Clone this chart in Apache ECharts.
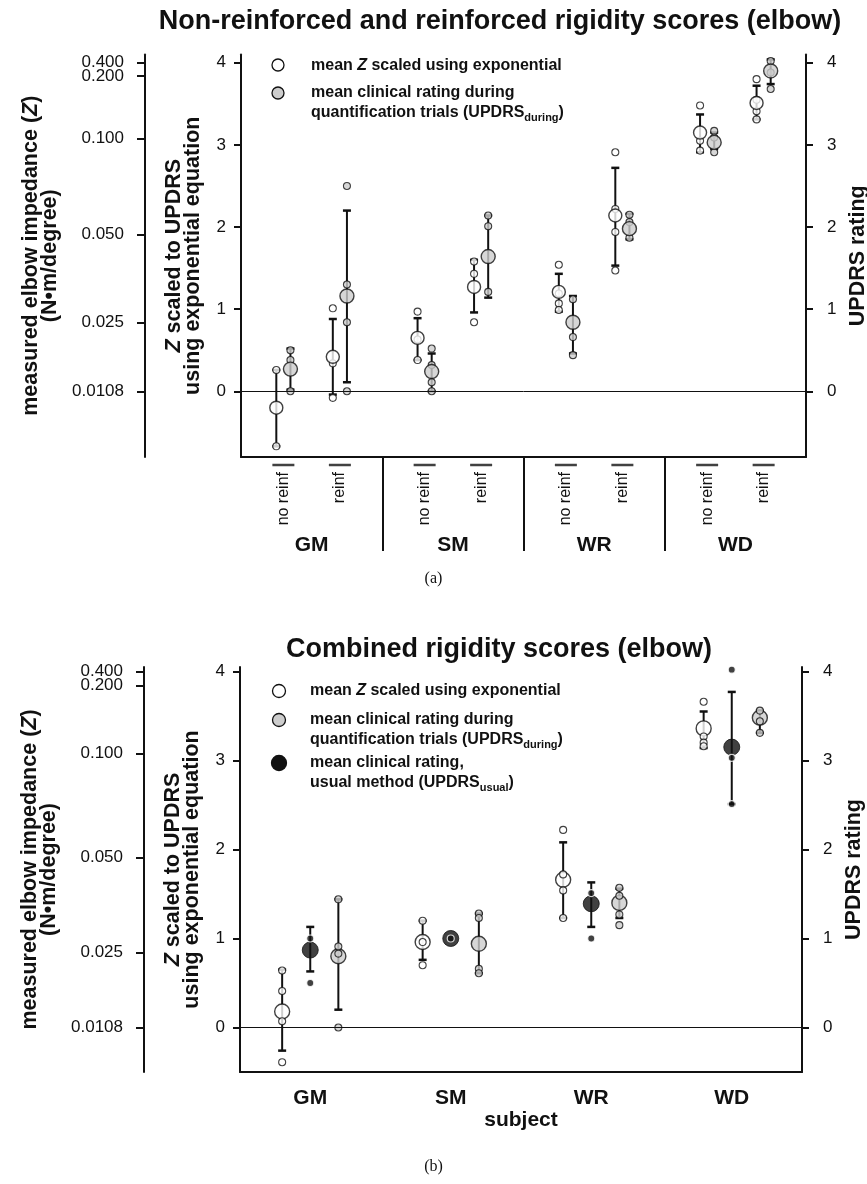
<!DOCTYPE html>
<html>
<head>
<meta charset="utf-8">
<script src="https://cdn.jsdelivr.net/npm/echarts@6/dist/echarts.min.js"></script>
<style>
  html, body { margin: 0; padding: 0; background: #fff; }
  #chart { width: 867px; height: 1184px; }
</style>
</head>
<body>
<div id="chart"></div>
<script>
// ---- data (score units, 0..4) ----
const subjects = ['GM', 'SM', 'WR', 'WD'];
const conditions = ['no reinf', 'reinf'];
const scoreTicks = [0, 1, 2, 3, 4];
const impedanceLabels = ['0.0108', '0.025', '0.050', '0.100', '0.200', '0.400'];
const impedanceOnScore = [0, 0.84, 1.91, 3.08, 3.84, 4.0];

// (a) one entry per subject x condition: GM no, GM reinf, SM no, ...
const topZMean = [-0.2, 0.42, 0.65, 1.27, 1.21, 2.14, 3.15, 3.51];
const topZLow = [-0.67, -0.04, 0.38, 0.96, 0.97, 1.53, 2.91, 3.31];
const topZHigh = [0.26, 0.88, 0.89, 1.6, 1.43, 2.72, 3.37, 3.72];
const topZPoints = [[0.26, -0.67], [1.01, 0.34, -0.08], [0.97, 0.63, 0.38], [1.58, 1.43, 0.84],
  [1.54, 1.19, 1.07, 0.99], [2.91, 2.22, 1.94, 1.47], [3.48, 3.05, 2.93], [3.8, 3.55, 3.41, 3.31]];
const topUMean = [0.27, 1.16, 0.24, 1.64, 0.84, 1.98, 3.03, 3.9];
const topULow = [0.02, 0.11, 0.0, 1.14, 0.46, 1.85, 2.95, 3.74];
const topUHigh = [0.52, 2.2, 0.46, 2.14, 1.16, 2.16, 3.15, 4.04];
const topUPoints = [[0.5, 0.38, 0], [2.5, 1.3, 0.84, 0], [0.52, 0.32, 0.11, 0], [2.14, 2.01, 1.21],
  [1.12, 0.66, 0.44], [2.15, 2.06, 1.87], [3.17, 3.09, 2.91], [4.02, 3.88, 3.68]];

// (b) one entry per subject
const botZMean = [0.18, 0.96, 1.66, 3.36];
const botZLow = [-0.26, 0.76, 1.23, 3.14];
const botZHigh = [0.65, 1.2, 2.08, 3.55];
const botZPoints = [[0.64, 0.41, 0.07, -0.39], [1.2, 0.96, 0.7], [2.22, 1.72, 1.54, 1.23], [3.66, 3.27, 3.2, 3.16]];
const botUsualMean = [0.87, 1.0, 1.39, 3.15];
const botUsualLow = [0.63, null, 1.13, 2.51];
const botUsualHigh = [1.13, null, 1.63, 3.77];
const botUsualPoints = [[1.0, 0.5], [1.0], [1.51, 1.0], [4.02, 3.03, 2.51]];
const botDuringMean = [0.8, 0.94, 1.4, 3.48];
const botDuringLow = [0.2, 0.61, 1.23, 3.31];
const botDuringHigh = [1.44, 1.28, 1.56, 3.56];
const botDuringPoints = [[1.44, 0.91, 0.83, 0], [1.28, 1.23, 0.66, 0.61], [1.57, 1.48, 1.27, 1.15], [3.56, 3.44, 3.31]];

// ---- layout / style ----
const FONT = 'Liberation Sans';
const INK = '#111';
const GRAY = '#cdcdcd';
const condOffset = [-0.2, 0.2];
const pairOffset = 0.05;
const trioOffset = 0.2;

const chart = echarts.init(document.getElementById('chart'), null, { renderer: 'canvas' });

const condX = [];
subjects.forEach((s, i) => condOffset.forEach(o => condX.push(i + o)));
const condNames = condX.map((_, k) => conditions[k % 2]);
const subjX = subjects.map((_, i) => i);

const topZX = condX.map(x => x - pairOffset);
const topUX = condX.map(x => x + pairOffset);
const botZX = subjX.map(x => x - trioOffset);
const botUsualX = subjX.slice();
const botDuringX = subjX.map(x => x + trioOffset);

// 0.400 and 0.200 sit very close; they go on two stacked axes so neither is dropped
const crowdedIdx = impedanceLabels.indexOf('0.200');
const impMainValues = impedanceOnScore.filter((_, i) => i !== crowdedIdx);
const impExtraValues = [impedanceOnScore[crowdedIdx]];

function toPairs(xs, ys) { return ys.map((y, i) => [xs[i], y]); }
function toBars(xs, lo, hi) {
  const out = [];
  xs.forEach((x, i) => { if (lo[i] != null) out.push([x, lo[i], hi[i]]); });
  return out;
}
function toPoints(xs, pts) {
  const out = [];
  pts.forEach((list, i) => list.forEach(v => out.push([xs[i], v])));
  return out;
}
function labelAt(values, names) {
  return function (v) {
    const i = values.findIndex(x => Math.abs(x - v) < 1e-6);
    return i < 0 ? '' : names[i];
  };
}

function renderErrorBar(params, api) {
  const x = api.value(0);
  const lo = api.coord([x, api.value(1)]);
  const hi = api.coord([x, api.value(2)]);
  const cap = 4;
  return {
    type: 'group',
    children: [
      { type: 'line', shape: { x1: lo[0], y1: lo[1], x2: hi[0], y2: hi[1] }, style: { stroke: INK, lineWidth: 2 } },
      { type: 'line', shape: { x1: hi[0] - cap, y1: hi[1], x2: hi[0] + cap, y2: hi[1] }, style: { stroke: INK, lineWidth: 2.5 } },
      { type: 'line', shape: { x1: lo[0] - cap, y1: lo[1], x2: lo[0] + cap, y2: lo[1] }, style: { stroke: INK, lineWidth: 2.5 } }
    ]
  };
}

const nameStyle = {
  fontFamily: FONT, fontWeight: 'bold', fontSize: 21.5, color: INK, lineHeight: 19,
  rich: { iz: { fontFamily: FONT, fontWeight: 'bold', fontStyle: 'italic', fontSize: 21.5, color: INK, lineHeight: 19 } }
};
const tickFont = { fontFamily: FONT, fontSize: 17, color: INK };

function scoreAxis(grid, min, max, position) {
  const left = position === 'left';
  return {
    type: 'value', gridIndex: grid, position: position, min: min, max: max,
    name: left ? '{iz|Z} scaled to UPDRS\nusing exponential equation' : 'UPDRS rating',
    nameLocation: 'middle', nameGap: left ? 38 : 40,
    nameTextStyle: nameStyle,
    axisLine: { show: true, onZero: false, lineStyle: { color: INK, width: 2 } },
    axisTick: { show: true, customValues: scoreTicks, length: 7, lineStyle: { color: INK, width: 2 } },
    axisLabel: Object.assign({ customValues: scoreTicks, margin: left ? 15 : 21, showMinLabel: true, showMaxLabel: true }, tickFont),
    splitLine: { show: false }
  };
}
function impedanceAxis(grid, min, max) {
  return {
    type: 'value', gridIndex: grid, position: 'left', offset: 96, min: min, max: max,
    name: 'measured elbow impedance ({iz|Z})\n(N•m/degree)',
    nameLocation: 'middle', nameGap: 84,
    nameTextStyle: nameStyle,
    axisLine: { show: true, onZero: false, lineStyle: { color: INK, width: 2 } },
    axisTick: { show: true, customValues: impedanceOnScore, length: 8, lineStyle: { color: INK, width: 2 } },
    axisLabel: Object.assign({ customValues: impMainValues, margin: 21, showMinLabel: true, showMaxLabel: true,
      formatter: labelAt(impedanceOnScore, impedanceLabels) }, tickFont),
    splitLine: { show: false }
  };
}
function impedanceExtraAxis(grid, min, max) {
  return {
    type: 'value', gridIndex: grid, position: 'left', offset: 96, min: min, max: max,
    axisLine: { show: false }, axisTick: { show: false },
    axisLabel: Object.assign({ customValues: impExtraValues, margin: 21, showMinLabel: true, showMaxLabel: true,
      formatter: labelAt(impedanceOnScore, impedanceLabels) }, tickFont),
    splitLine: { show: false }
  };
}

const zeroLine = {
  silent: true, symbol: ['none', 'none'], label: { show: false },
  lineStyle: { color: INK, width: 1, type: 'solid' },
  data: [{ yAxis: 0 }]
};

const bigOpen = { color: '#fff', borderColor: INK, borderWidth: 1.4 };
const bigGray = { color: GRAY, borderColor: INK, borderWidth: 1.4 };
const bigBlack = { color: INK, borderColor: INK, borderWidth: 1 };
const smallOpen = { color: '#fff', borderColor: INK, borderWidth: 1.1 };
const smallGray = { color: GRAY, borderColor: INK, borderWidth: 1.1 };
const smallBlack = { color: INK, borderColor: '#fff', borderWidth: 1.2 };

function errSeries(x, y, data) {
  return { type: 'custom', xAxisIndex: x, yAxisIndex: y, renderItem: renderErrorBar, encode: { x: 0, y: [1, 2] }, data: data, z: 2, silent: true };
}
function dotSeries(x, y, data, size, style, z, extra) {
  return Object.assign({ type: 'scatter', xAxisIndex: x, yAxisIndex: y, symbol: 'circle', symbolSize: size, itemStyle: style, data: data, z: z, silent: true }, extra || {});
}

const legendFont = { fontFamily: FONT, fontWeight: 'bold', fontSize: 16, fill: INK, lineHeight: 20 };
const legendRich = {
  iz: { fontFamily: FONT, fontWeight: 'bold', fontStyle: 'italic', fontSize: 16, fill: INK },
  sub: { fontFamily: FONT, fontWeight: 'bold', fontSize: 11, fill: INK, padding: [9, 0, 0, 0] }
};
function legendIcon(cx, cy, r, fill) {
  return { type: 'circle', shape: { cx: cx, cy: cy, r: r }, style: { fill: fill, stroke: INK, lineWidth: 1.3 } };
}
function legendText(x, y, text) {
  return { type: 'text', x: x, y: y, style: Object.assign({ text: text, rich: legendRich, verticalAlign: 'top' }, legendFont) };
}

const titleFont = { fontFamily: FONT, fontWeight: 'bold', fontSize: 27, color: INK };

const option = {
  backgroundColor: '#fff',
  animation: false,
  title: [
    { text: 'Non-reinforced and reinforced rigidity scores (elbow)', left: 495, top: 3, textAlign: 'center', textStyle: titleFont },
    { text: 'Combined rigidity scores (elbow)', left: 494, top: 631, textAlign: 'center', textStyle: titleFont },
    { text: '(a)', left: 'center', top: 566, textStyle: { fontFamily: 'Liberation Serif', fontWeight: 'normal', fontSize: 16, color: INK } },
    { text: '(b)', left: 'center', top: 1154, textStyle: { fontFamily: 'Liberation Serif', fontWeight: 'normal', fontSize: 16, color: INK } }
  ],
  grid: [
    { left: 241, right: 61, top: 54.5, bottom: 727, outerBoundsMode: 'none' },
    { left: 240, right: 65, top: 667, bottom: 112, outerBoundsMode: 'none' }
  ],
  xAxis: [
    { // subject labels + group separators, panel (a)
      type: 'value', gridIndex: 0, min: -0.5, max: 3.5,
      axisLine: { show: true, onZero: false, lineStyle: { color: INK, width: 2 } },
      axisTick: { show: true, customValues: [0.5, 1.5, 2.5], length: 94, lineStyle: { color: INK, width: 2 } },
      axisLabel: { customValues: subjX, formatter: labelAt(subjX, subjects), margin: 78,
        fontFamily: FONT, fontWeight: 'bold', fontSize: 21, color: INK },
      splitLine: { show: false }
    },
    { // condition labels, panel (a)
      type: 'value', gridIndex: 0, min: -0.5, max: 3.5, position: 'bottom',
      axisLine: { show: false }, axisTick: { show: false },
      axisLabel: { customValues: condX, formatter: labelAt(condX, condNames), rotate: 90, margin: 15,
        fontFamily: FONT, fontSize: 16, color: INK },
      splitLine: { show: false }
    },
    { // panel (b)
      type: 'value', gridIndex: 1, min: -0.5, max: 3.5,
      name: 'subject', nameLocation: 'middle', nameGap: 36,
      nameTextStyle: { fontFamily: FONT, fontWeight: 'bold', fontSize: 21, color: INK },
      axisLine: { show: true, onZero: false, lineStyle: { color: INK, width: 2 } },
      axisTick: { show: false },
      axisLabel: { customValues: subjX, formatter: labelAt(subjX, subjects), margin: 16,
        fontFamily: FONT, fontWeight: 'bold', fontSize: 21, color: INK },
      splitLine: { show: false }
    }
  ],
  yAxis: [
    scoreAxis(0, -0.8, 4.1, 'left'),
    scoreAxis(0, -0.8, 4.1, 'right'),
    impedanceAxis(0, -0.8, 4.1),
    impedanceExtraAxis(0, -0.8, 4.1),
    scoreAxis(1, -0.5, 4.05, 'left'),
    scoreAxis(1, -0.5, 4.05, 'right'),
    impedanceAxis(1, -0.5, 4.05),
    impedanceExtraAxis(1, -0.5, 4.05)
  ],
  series: [
    // panel (a)
    errSeries(0, 0, toBars(topZX, topZLow, topZHigh)),
    errSeries(0, 0, toBars(topUX, topULow, topUHigh)),
    dotSeries(0, 0, toPoints(topZX, topZPoints), 7, smallOpen, 3),
    dotSeries(0, 0, toPoints(topUX, topUPoints), 7, smallGray, 3),
    dotSeries(0, 0, toPairs(topZX, topZMean), 13, bigOpen, 4, { markLine: zeroLine }),
    dotSeries(0, 0, toPairs(topUX, topUMean), 14, bigGray, 4),
    dotSeries(0, 0, condX.map(x => [x, -0.8]), [22, 2.5], { color: INK }, 5,
      { symbol: 'rect', symbolOffset: [0, 8], clip: false }),
    // panel (b)
    errSeries(2, 4, toBars(botZX, botZLow, botZHigh)),
    errSeries(2, 4, toBars(botUsualX, botUsualLow, botUsualHigh)),
    errSeries(2, 4, toBars(botDuringX, botDuringLow, botDuringHigh)),
    dotSeries(2, 4, toPairs(botZX, botZMean), 15, bigOpen, 3, { markLine: zeroLine }),
    dotSeries(2, 4, toPairs(botUsualX, botUsualMean), 16, bigBlack, 3),
    dotSeries(2, 4, toPairs(botDuringX, botDuringMean), 15, bigGray, 3),
    dotSeries(2, 4, toPoints(botZX, botZPoints), 7, smallOpen, 4),
    dotSeries(2, 4, toPoints(botUsualX, botUsualPoints), 7, smallBlack, 4),
    dotSeries(2, 4, toPoints(botDuringX, botDuringPoints), 7, smallGray, 4)
  ],
  graphic: [
    legendIcon(278, 65, 6, '#fff'),
    legendText(311, 56, 'mean {iz|Z} scaled using exponential'),
    legendIcon(278, 93, 6, GRAY),
    legendText(311, 83, 'mean clinical rating during\nquantification trials (UPDRS{sub|during})'),
    legendIcon(279, 691, 6.5, '#fff'),
    legendText(310, 681, 'mean {iz|Z} scaled using exponential'),
    legendIcon(279, 720, 6.5, GRAY),
    legendText(310, 710, 'mean clinical rating during\nquantification trials (UPDRS{sub|during})'),
    legendIcon(279, 763, 7.5, INK),
    legendText(310, 753, 'mean clinical rating,\nusual method (UPDRS{sub|usual})')
  ]
};

chart.setOption(option);
</script>
</body>
</html>
